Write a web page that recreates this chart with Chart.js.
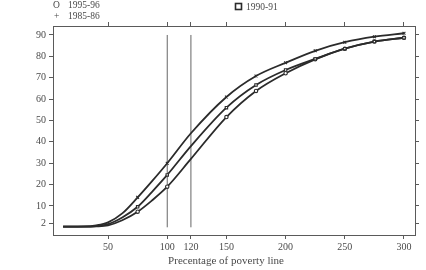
<!DOCTYPE html>
<html>
<head>
<meta charset="utf-8">
<script src="https://cdn.jsdelivr.net/npm/chart.js@4"></script>
<style>
  html, body { margin: 0; padding: 0; background: #fff; }
  #chart { display: block; }
</style>
</head>
<body>
<canvas id="chart" width="426" height="270"></canvas>
<script>
// values
const xValues = [12, 30, 40, 50, 62, 75, 87, 100, 120, 150, 175, 200, 225, 250, 275, 300];
const series1985 = [0.3, 0.4, 0.9, 2.3, 6.5, 14.0, 21.5, 30.0, 44.0, 61.0, 70.8, 77.0, 82.6, 86.6, 89.2, 90.8];
const series1990 = [0.3, 0.3, 0.6, 1.5, 4.6, 9.6, 16.5, 24.5, 38.0, 56.0, 66.6, 73.6, 78.8, 83.6, 86.9, 88.7];
const series1995 = [0.3, 0.3, 0.4, 0.9, 3.3, 7.3, 12.5, 19.0, 32.0, 51.6, 63.8, 72.1, 78.6, 83.6, 86.9, 88.7];
const markerX = [75, 100, 150, 175, 200, 225, 250, 275, 300];
const povertyLines = [100, 120];
const lineTop = 90;
const xTicks = [50, 100, 120, 150, 200, 250, 300];
const yTicks = [2, 10, 20, 30, 40, 50, 60, 70, 80, 90];
const xTitle = 'Precentage of poverty line';

const serif = '"Liberation Serif", "DejaVu Serif", serif';
const ink = '#2b2b2b';
const axisGrey = '#5a5a5a';
const textGrey = '#4a4a4a';

function toPoints(ys) {
  return xValues.map((x, i) => ({ x: x, y: ys[i] }));
}

function markerRadius(size) {
  return ctx => markerX.includes(xValues[ctx.dataIndex]) ? size : 0;
}

function curve(label, ys, style, fill, size) {
  return {
    label: label,
    data: toPoints(ys),
    borderColor: ink,
    borderWidth: 1.8,
    cubicInterpolationMode: 'monotone',
    pointStyle: style,
    pointRadius: markerRadius(size),
    pointBorderColor: ink,
    pointBorderWidth: 1.1,
    pointBackgroundColor: fill
  };
}

const datasets = [
  curve('1985-86', series1985, 'crossRot', ink, 2),
  curve('1990-91', series1990, 'rect', '#fff', 1.7),
  curve('1995-96', series1995, 'circle', '#fff', 1.7)
];

povertyLines.forEach(v => {
  datasets.push({
    label: 'line ' + v,
    data: [{ x: v, y: 0 }, { x: v, y: lineTop }],
    borderColor: '#666',
    borderWidth: 1,
    pointRadius: 0
  });
});

function fixTicks(list) {
  return scale => { scale.ticks = list.map(v => ({ value: v })); };
}

const tickFont = { family: serif, size: 10 };

// legend and axis title drawn as text on the canvas
const extras = {
  id: 'extras',
  afterDraw(chart) {
    const c = chart.ctx;
    c.save();
    c.fillStyle = textGrey;
    c.strokeStyle = ink;
    c.textBaseline = 'middle';
    c.font = '9.5px ' + serif;
    c.textAlign = 'left';
    c.fillText('O', 53, 5);
    c.fillText('1995-96', 68, 5);
    c.fillText('+', 54, 16);
    c.fillText('1985-86', 68, 16);
    c.lineWidth = 1.6;
    c.strokeRect(235.5, 3.5, 6, 6);
    c.fillText('1990-91', 246, 7);
    c.font = '11px ' + serif;
    c.textAlign = 'center';
    c.fillText(xTitle, 226, 261);
    c.restore();
  }
};

new Chart(document.getElementById('chart'), {
  type: 'line',
  data: { datasets: datasets },
  plugins: [extras],
  options: {
    responsive: false,
    animation: false,
    layout: { padding: { top: 22, right: 7, left: 0, bottom: 0 } },
    plugins: {
      legend: { display: false },
      tooltip: { enabled: false }
    },
    scales: {
      x: {
        type: 'linear',
        position: 'bottom',
        min: 3.5,
        max: 309.3,
        afterBuildTicks: fixTicks(xTicks),
        afterFit: s => { s.height = 35; },
        grid: { drawOnChartArea: false, tickLength: 4, color: axisGrey },
        border: { color: axisGrey },
        ticks: { font: tickFont, color: textGrey, padding: 2, maxRotation: 0, autoSkip: false }
      },
      x2: {
        type: 'linear',
        axis: 'x',
        position: 'top',
        min: 3.5,
        max: 309.3,
        afterBuildTicks: fixTicks(xTicks),
        afterFit: s => { s.height = 4; },
        grid: { drawOnChartArea: false, tickLength: 4, color: axisGrey },
        border: { color: axisGrey },
        ticks: { display: false }
      },
      y: {
        type: 'linear',
        position: 'left',
        min: -3.6,
        max: 94.2,
        afterBuildTicks: fixTicks(yTicks),
        afterFit: s => { s.width = 53; },
        grid: { drawOnChartArea: false, tickLength: 4, color: axisGrey },
        border: { color: axisGrey },
        ticks: { font: tickFont, color: textGrey, padding: 3, autoSkip: false }
      },
      y2: {
        type: 'linear',
        axis: 'y',
        position: 'right',
        min: -3.6,
        max: 94.2,
        afterBuildTicks: fixTicks(yTicks),
        afterFit: s => { s.width = 4; },
        grid: { drawOnChartArea: false, tickLength: 4, color: axisGrey },
        border: { color: axisGrey },
        ticks: { display: false }
      }
    }
  }
});
</script>
</body>
</html>
